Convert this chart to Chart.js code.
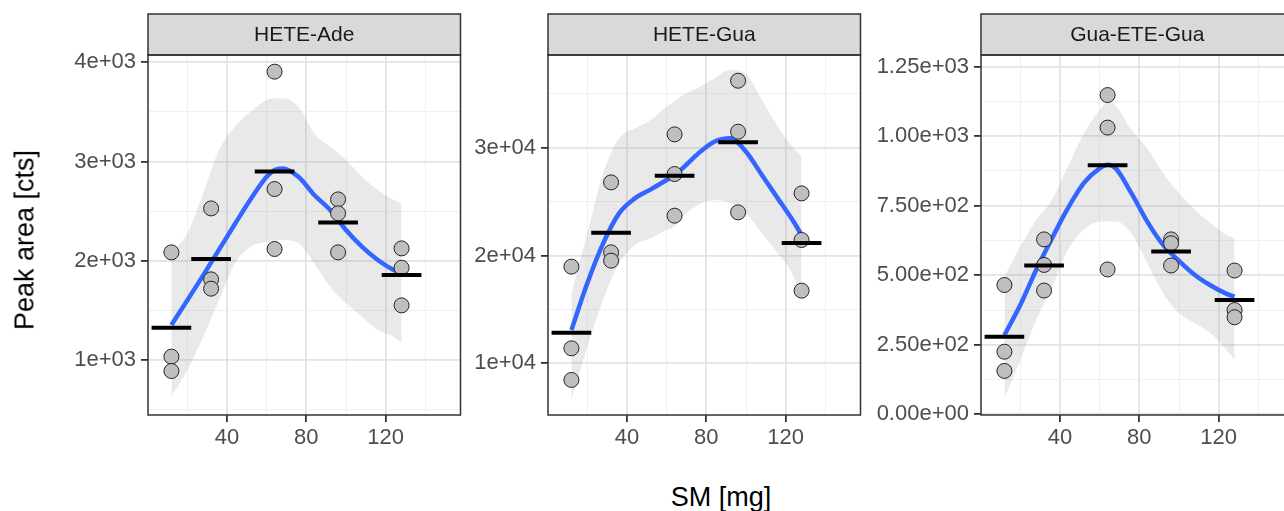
<!DOCTYPE html>
<html>
<head>
<meta charset="utf-8">
<title>Peak area vs SM</title>
<script src="https://cdn.jsdelivr.net/npm/chart.js@4.4.1/dist/chart.umd.min.js"></script>
<style>
  html, body { margin: 0; padding: 0; background: #fff; overflow: hidden; }
  #wrap { position: relative; width: 1284px; height: 511px; overflow: hidden; font-family: 'Liberation Sans', Arial, sans-serif; }
  #wrap canvas { position: absolute; top: 0; }
  .axis-title { position: absolute; font-size: 27px; color: #000; white-space: nowrap; }
  #ytitle { left: 25px; top: 240px; transform: translate(-50%, -50%) rotate(-90deg); }
  #xtitle { left: 721px; top: 497px; transform: translate(-50%, -50%); }
</style>
</head>
<body>
<div id="wrap">
  <canvas id="p1" width="431" height="470" style="left:38px"></canvas>
  <canvas id="p2" width="431" height="470" style="left:438px"></canvas>
  <canvas id="p3" width="431" height="470" style="left:871px"></canvas>
  <div class="axis-title" id="ytitle">Peak area [cts]</div>
  <div class="axis-title" id="xtitle">SM [mg]</div>
</div>
<script>
// SM doses (mg) and the x positions where the smoother / ribbon were read
const doses = [12, 32, 64, 96, 128];
const fitX = [12, 20, 28, 36, 44, 52, 60, 64, 68, 76, 84, 92, 100, 108, 116, 124, 128];

// x axis ticks (shared by all facets)
const xMajor = [40, 80, 120];
const xMinor = [20, 60, 100, 140];

// HETE-Ade
const adeReps = [[2085, 1034, 889], [2528, 1813, 1719], [3906, 2723, 2119], [2619, 2478, 2085], [2125, 1930, 1551]];
const adeMeans = [1326, 2018, 2901, 2387, 1857];
const adeFit = [1353, 1601, 1853, 2112, 2371, 2623, 2847, 2915, 2931, 2847, 2663, 2512, 2310, 2142, 2008, 1907, 1873];
const adeUpper = [2075, 2276, 2680, 3116, 3351, 3503, 3620, 3637, 3637, 3553, 3284, 3150, 3015, 2847, 2713, 2612, 2579];
const adeLower = [631, 899, 1235, 1605, 1974, 2142, 2192, 2202, 2209, 2176, 1974, 1739, 1571, 1437, 1302, 1235, 1168];
const adeYMajor = [1000, 2000, 3000, 4000];
const adeYMinor = [500, 1500, 2500, 3500];
const adeYLabels = ['1e+03', '2e+03', '3e+03', '4e+03'];

// HETE-Gua
const guaReps = [[18964, 11391, 8454], [26785, 20294, 19521], [31236, 27558, 23694], [36213, 31484, 24003], [25765, 21437, 16739]];
const guaMeans = [12844, 22117, 27403, 30495, 21159];
const guaFit = [13091, 17419, 21128, 23910, 25301, 26136, 27002, 27465, 28083, 29474, 30556, 30866, 29629, 27465, 25301, 23138, 21901];
const guaUpper = [16491, 22056, 27620, 30866, 31793, 32566, 33802, 34300, 34884, 35595, 36430, 37202, 36831, 34420, 31947, 29938, 29165];
const guaLower = [6600, 11546, 15873, 19274, 20974, 21592, 22365, 22700, 23601, 24683, 25147, 24838, 23910, 22056, 20201, 18037, 15873];
const guaYMajor = [10000, 20000, 30000];
const guaYMinor = [15000, 25000, 35000];
const guaYLabels = ['1e+04', '2e+04', '3e+04'];

// Gua-ETE-Gua
const gegReps = [[465, 225, 156], [629, 537, 445], [1148, 1031, 521], [629, 615, 535], [517, 375, 349]];
const gegMeans = [279, 535, 896, 585, 411];
const gegFit = [285, 393, 519, 633, 741, 831, 884, 897, 885, 795, 693, 609, 552, 501, 463, 433, 423];
const gegUpper = [495, 603, 699, 771, 891, 1010, 1094, 1123, 1110, 1022, 956, 867, 795, 735, 687, 645, 633];
const gegLower = [58, 195, 339, 459, 591, 663, 693, 693, 693, 651, 543, 435, 363, 327, 291, 231, 195];
const gegYMajor = [0, 250, 500, 750, 1000, 1250];
const gegYMinor = [125, 375, 625, 875, 1125];
const gegYLabels = ['0.00e+00', '2.50e+02', '5.00e+02', '7.50e+02', '1.00e+03', '1.25e+03'];

const FONT = "'Liberation Sans', Arial, sans-serif";
const STRIP_TOP = 14;
const BAR_HALF = 10;   // half width of the mean crossbar, in mg

// strip header + panel border, ggplot theme_bw style
const panelFrame = {
    id: 'panelFrame',
    afterDraw(chart, args, opts) {
        const { ctx, chartArea: a } = chart;
        const w = a.right - a.left;
        ctx.save();
        ctx.fillStyle = '#d9d9d9';
        ctx.fillRect(a.left, STRIP_TOP, w, a.top - STRIP_TOP);
        ctx.strokeStyle = '#333333';
        ctx.lineWidth = 1.5;
        ctx.strokeRect(a.left, STRIP_TOP, w, a.top - STRIP_TOP);
        ctx.strokeRect(a.left, a.top, w, a.bottom - a.top);
        ctx.fillStyle = '#1a1a1a';
        ctx.font = '21px ' + FONT;
        ctx.textAlign = 'center';
        ctx.textBaseline = 'middle';
        ctx.fillText(opts.label, a.left + w / 2, (STRIP_TOP + a.top) / 2 + 1);
        ctx.restore();
    }
};

function tickSetup(major, minor) {
    return s => {
        s.ticks = major.concat(minor).sort((p, q) => p - q).map(v => ({ value: v }));
    };
}

function noPad(s) {
    s.paddingLeft = 0;
    s.paddingRight = 0;
    s.paddingTop = 0;
    s.paddingBottom = 0;
}

function gridOpts(major) {
    return {
        color: c => major.includes(c.tick.value) ? '#e3e3e3' : '#f0f0f0',
        lineWidth: c => major.includes(c.tick.value) ? 1.8 : 1,
        tickColor: c => major.includes(c.tick.value) ? '#333333' : 'rgba(0,0,0,0)',
        tickLength: 7
    };
}

function makePanel(id, label, reps, means, fit, upper, lower, yMin, yMax, yMajor, yMinor, yLabels) {
    const barData = [];
    doses.forEach((d, i) => {
        barData.push({ x: d - BAR_HALF, y: means[i] }, { x: d + BAR_HALF, y: means[i] }, { x: d, y: null });
    });
    const pointData = [];
    doses.forEach((d, i) => reps[i].forEach(v => pointData.push({ x: d, y: v })));

    new Chart(document.getElementById(id), {
        type: 'line',
        data: {
            datasets: [
                {
                    data: barData,
                    borderColor: '#000000',
                    borderWidth: 4,
                    borderCapStyle: 'butt',
                    pointRadius: 0,
                    spanGaps: false,
                    tension: 0
                },
                {
                    data: pointData,
                    showLine: false,
                    pointRadius: 7.5,
                    pointBackgroundColor: '#bfbfbf',
                    pointBorderColor: '#222222',
                    pointBorderWidth: 1
                },
                {
                    data: fitX.map((x, i) => ({ x: x, y: fit[i] })),
                    borderColor: '#3366ff',
                    borderWidth: 4.5,
                    pointRadius: 0,
                    cubicInterpolationMode: 'monotone'
                },
                {
                    data: fitX.map((x, i) => ({ x: x, y: upper[i] })),
                    borderWidth: 0,
                    borderColor: 'rgba(0,0,0,0)',
                    backgroundColor: 'rgba(153,153,153,0.22)',
                    pointRadius: 0,
                    cubicInterpolationMode: 'monotone',
                    fill: '+1'
                },
                {
                    data: fitX.map((x, i) => ({ x: x, y: lower[i] })),
                    borderWidth: 0,
                    borderColor: 'rgba(0,0,0,0)',
                    pointRadius: 0,
                    cubicInterpolationMode: 'monotone',
                    fill: false
                }
            ]
        },
        options: {
            responsive: false,
            animation: false,
            events: [],
            layout: { padding: { top: 55, right: 2, bottom: 0, left: 0 } },
            plugins: {
                legend: { display: false },
                tooltip: { enabled: false },
                panelFrame: { label: label }
            },
            scales: {
                x: {
                    type: 'linear',
                    min: 0.2,
                    max: 157.7,
                    afterBuildTicks: tickSetup(xMajor, xMinor),
                    afterFit: s => { s.height = 55; noPad(s); },
                    grid: gridOpts(xMajor),
                    border: { display: false },
                    ticks: {
                        autoSkip: false,
                        maxRotation: 0,
                        padding: 3,
                        color: '#4d4d4d',
                        font: { family: FONT, size: 22 },
                        callback: v => xMajor.includes(v) ? String(v) : ''
                    }
                },
                y: {
                    type: 'linear',
                    min: yMin,
                    max: yMax,
                    afterBuildTicks: tickSetup(yMajor, yMinor),
                    afterFit: s => { s.width = 110; noPad(s); },
                    grid: gridOpts(yMajor),
                    border: { display: false },
                    ticks: {
                        autoSkip: false,
                        padding: 5,
                        color: '#4d4d4d',
                        font: { family: FONT, size: 22 },
                        callback: v => {
                            const k = yMajor.indexOf(v);
                            return k >= 0 ? yLabels[k] : '';
                        }
                    }
                }
            }
        },
        plugins: [panelFrame]
    });
}

makePanel('p1', 'HETE-Ade', adeReps, adeMeans, adeFit, adeUpper, adeLower, 446, 4074, adeYMajor, adeYMinor, adeYLabels);
makePanel('p2', 'HETE-Gua', guaReps, guaMeans, guaFit, guaUpper, guaLower, 5204, 38600, guaYMajor, guaYMinor, guaYLabels);
makePanel('p3', 'Gua-ETE-Gua', gegReps, gegMeans, gegFit, gegUpper, gegLower, -2.5, 1292, gegYMajor, gegYMinor, gegYLabels);
</script>
</body>
</html>
